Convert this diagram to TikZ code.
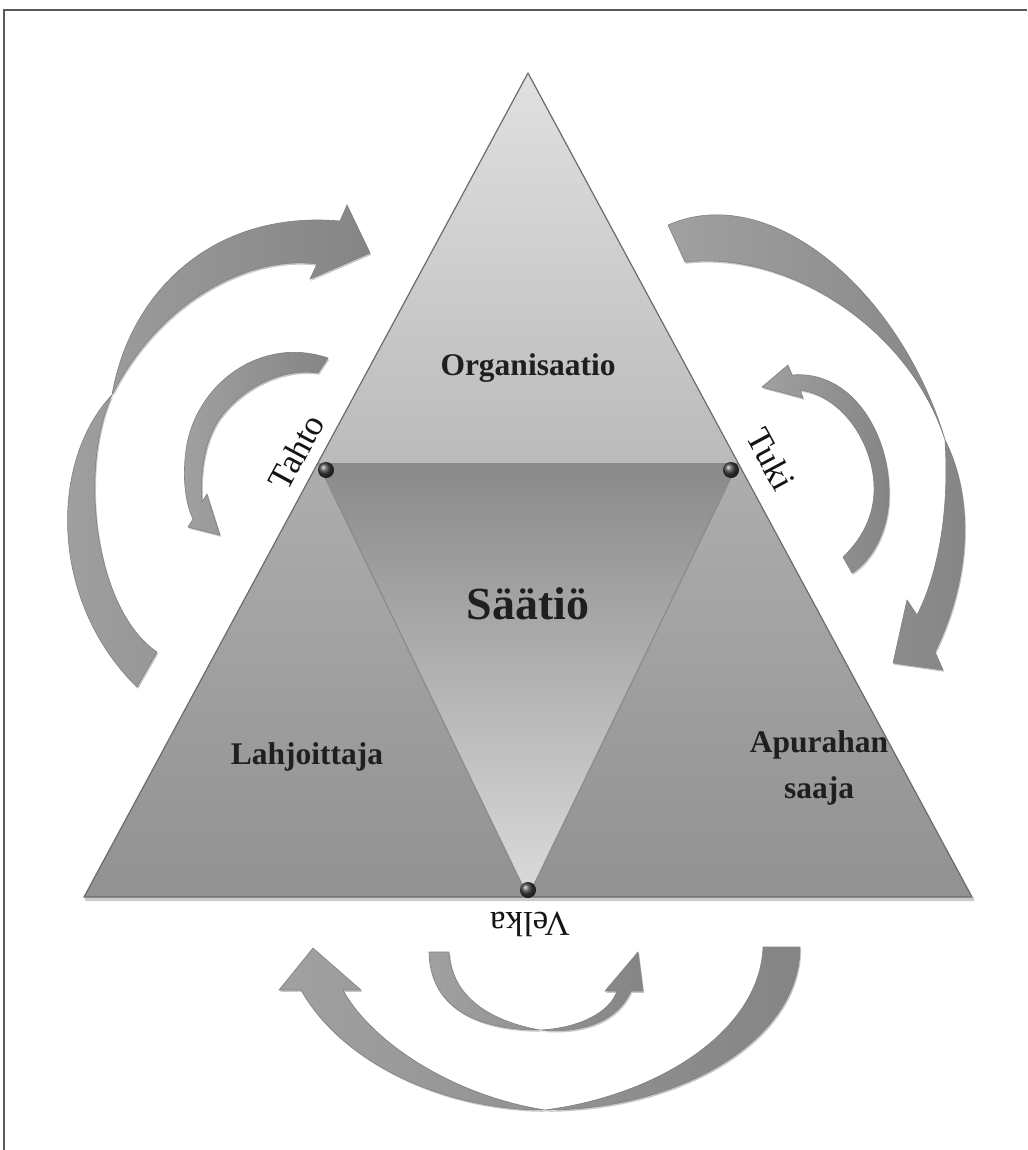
\documentclass[tikz,border=0pt]{standalone}
\usepackage{fontspec}
\setmainfont{Liberation Serif}
\usetikzlibrary{shadows}
\begin{document}
\begin{tikzpicture}[x=1pt,y=-1pt,
  arrowshape/.style={draw=black!50, line width=0.6pt, left color=black!37, right color=black!48,
    drop shadow={shadow xshift=1.2pt,shadow yshift=-1.8pt,opacity=0.22,fill=black}},
  lbl/.style={font=\bfseries\fontsize{31.5}{46}\selectfont, text=black!88, align=center},
  side/.style={font=\fontsize{35}{40}\selectfont, text=black!92},
  dotball/.style={shading=ball, ball color=black!75},
]
\useasboundingbox (0,0) rectangle (1027,1150);
\fill[white] (0,0) rectangle (1027,1150);
\draw[black!65, line width=1.5pt] (4,1150) -- (4,10) -- (1027,10);

% main triangle corners
\coordinate (A) at (528,73);
\coordinate (BL) at (84,897);
\coordinate (BR) at (972,897);
\coordinate (ML) at (318,463);
\coordinate (MR) at (738,463);
\coordinate (MB) at (528,897);

\fill[black!20] (BL) ++(2,4) -- ++(888,0) -- ++(0,-4) -- (BL) -- cycle;
\shade[top color=black!12, bottom color=black!27] (A) -- (ML) -- (MR) -- cycle;
\shade[top color=black!46, bottom color=black!14] (ML) -- (MR) -- (MB) -- cycle;
\shade[top color=black!32, bottom color=black!43] (ML) -- (MB) -- (BL) -- cycle;
\shade[top color=black!32, bottom color=black!43] (MR) -- (MB) -- (BR) -- cycle;
\draw[black!45, line width=1.3pt] (ML) -- (MB) -- (MR);
\draw[black!58, line width=1.2pt, line join=round] (A) -- (BL) -- (BR) -- cycle;

% arrows
% left outer
\path[arrowshape] (157,652) .. controls (95,610) and (78,470) .. (112,395)
  .. controls (130,290) and (215,210) .. (340,221)
  -- (347,205) -- (370,253) -- (310,279) -- (317,264)
  .. controls (250,255) and (160,300) .. (112,395)
  .. controls (50,460) and (48,600) .. (137,687) -- cycle;
% left inner
\path[arrowshape] (328,358) .. controls (260,335) and (195,385) .. (186,450)
  .. controls (182,480) and (186,505) .. (193,519)
  -- (188,527) -- (220,535) -- (207,494) -- (202,502)
  .. controls (200,470) and (205,440) .. (220,418)
  .. controls (245,385) and (285,368) .. (318,373) -- cycle;
% right outer
\path[arrowshape] (668,225) .. controls (770,180) and (900,290) .. (945,440)
  .. controls (950,520) and (935,580) .. (917,615)
  -- (907,600) -- (893,663) -- (943,670) -- (935,652)
  .. controls (970,580) and (975,500) .. (945,440)
  .. controls (910,330) and (790,250) .. (685,262) -- cycle;
% right inner
\path[arrowshape] (792,375) .. controls (850,370) and (888,430) .. (889,490)
  .. controls (890,530) and (872,560) .. (852,573)
  -- (843,557)
  .. controls (866,535) and (875,510) .. (874,485)
  .. controls (872,440) and (840,395) .. (800,390)
  -- (803,398) -- (762,387) -- (788,365) -- cycle;
% bottom outer
\path[arrowshape] (800,947) .. controls (800,1040) and (680,1110) .. (545,1110)
  .. controls (450,1095) and (370,1040) .. (343,990)
  -- (361,990) -- (313,948) -- (279,990) -- (301,990)
  .. controls (340,1060) and (440,1110) .. (545,1110)
  .. controls (660,1095) and (760,1030) .. (763,947) -- cycle;
% bottom inner
\path[arrowshape] (429,952) .. controls (430,1010) and (480,1030) .. (540,1030)
  .. controls (580,1028) and (610,1012) .. (617,991)
  -- (605,991) -- (638,952) -- (643,991) -- (631,991)
  .. controls (618,1020) and (585,1034) .. (540,1030)
  .. controls (495,1022) and (452,1000) .. (449,952) -- cycle;

% dots
\shade[dotball] (326,470) circle (8);
\shade[dotball] (731,470) circle (8);
\shade[dotball] (528,890) circle (8);

% labels
\node[lbl] (org) at (528,368) {Organisaatio};
\node[lbl, font=\bfseries\fontsize{46}{52}\selectfont] (saa) at (528,604) {Säätiö};
\node[lbl] (lah) at (307,757) {Lahjoittaja};
\node[lbl] (apu) at (819,768) {Apurahan\\saaja};
\node[side, rotate=61.7] (tahto) at (296,452) {Tahto};
\node[side, rotate=-61.7] (tuki) at (771,459) {Tuki};
\node[side, rotate=180] (velka) at (530,924) {Velka};
\end{tikzpicture}
\end{document}
